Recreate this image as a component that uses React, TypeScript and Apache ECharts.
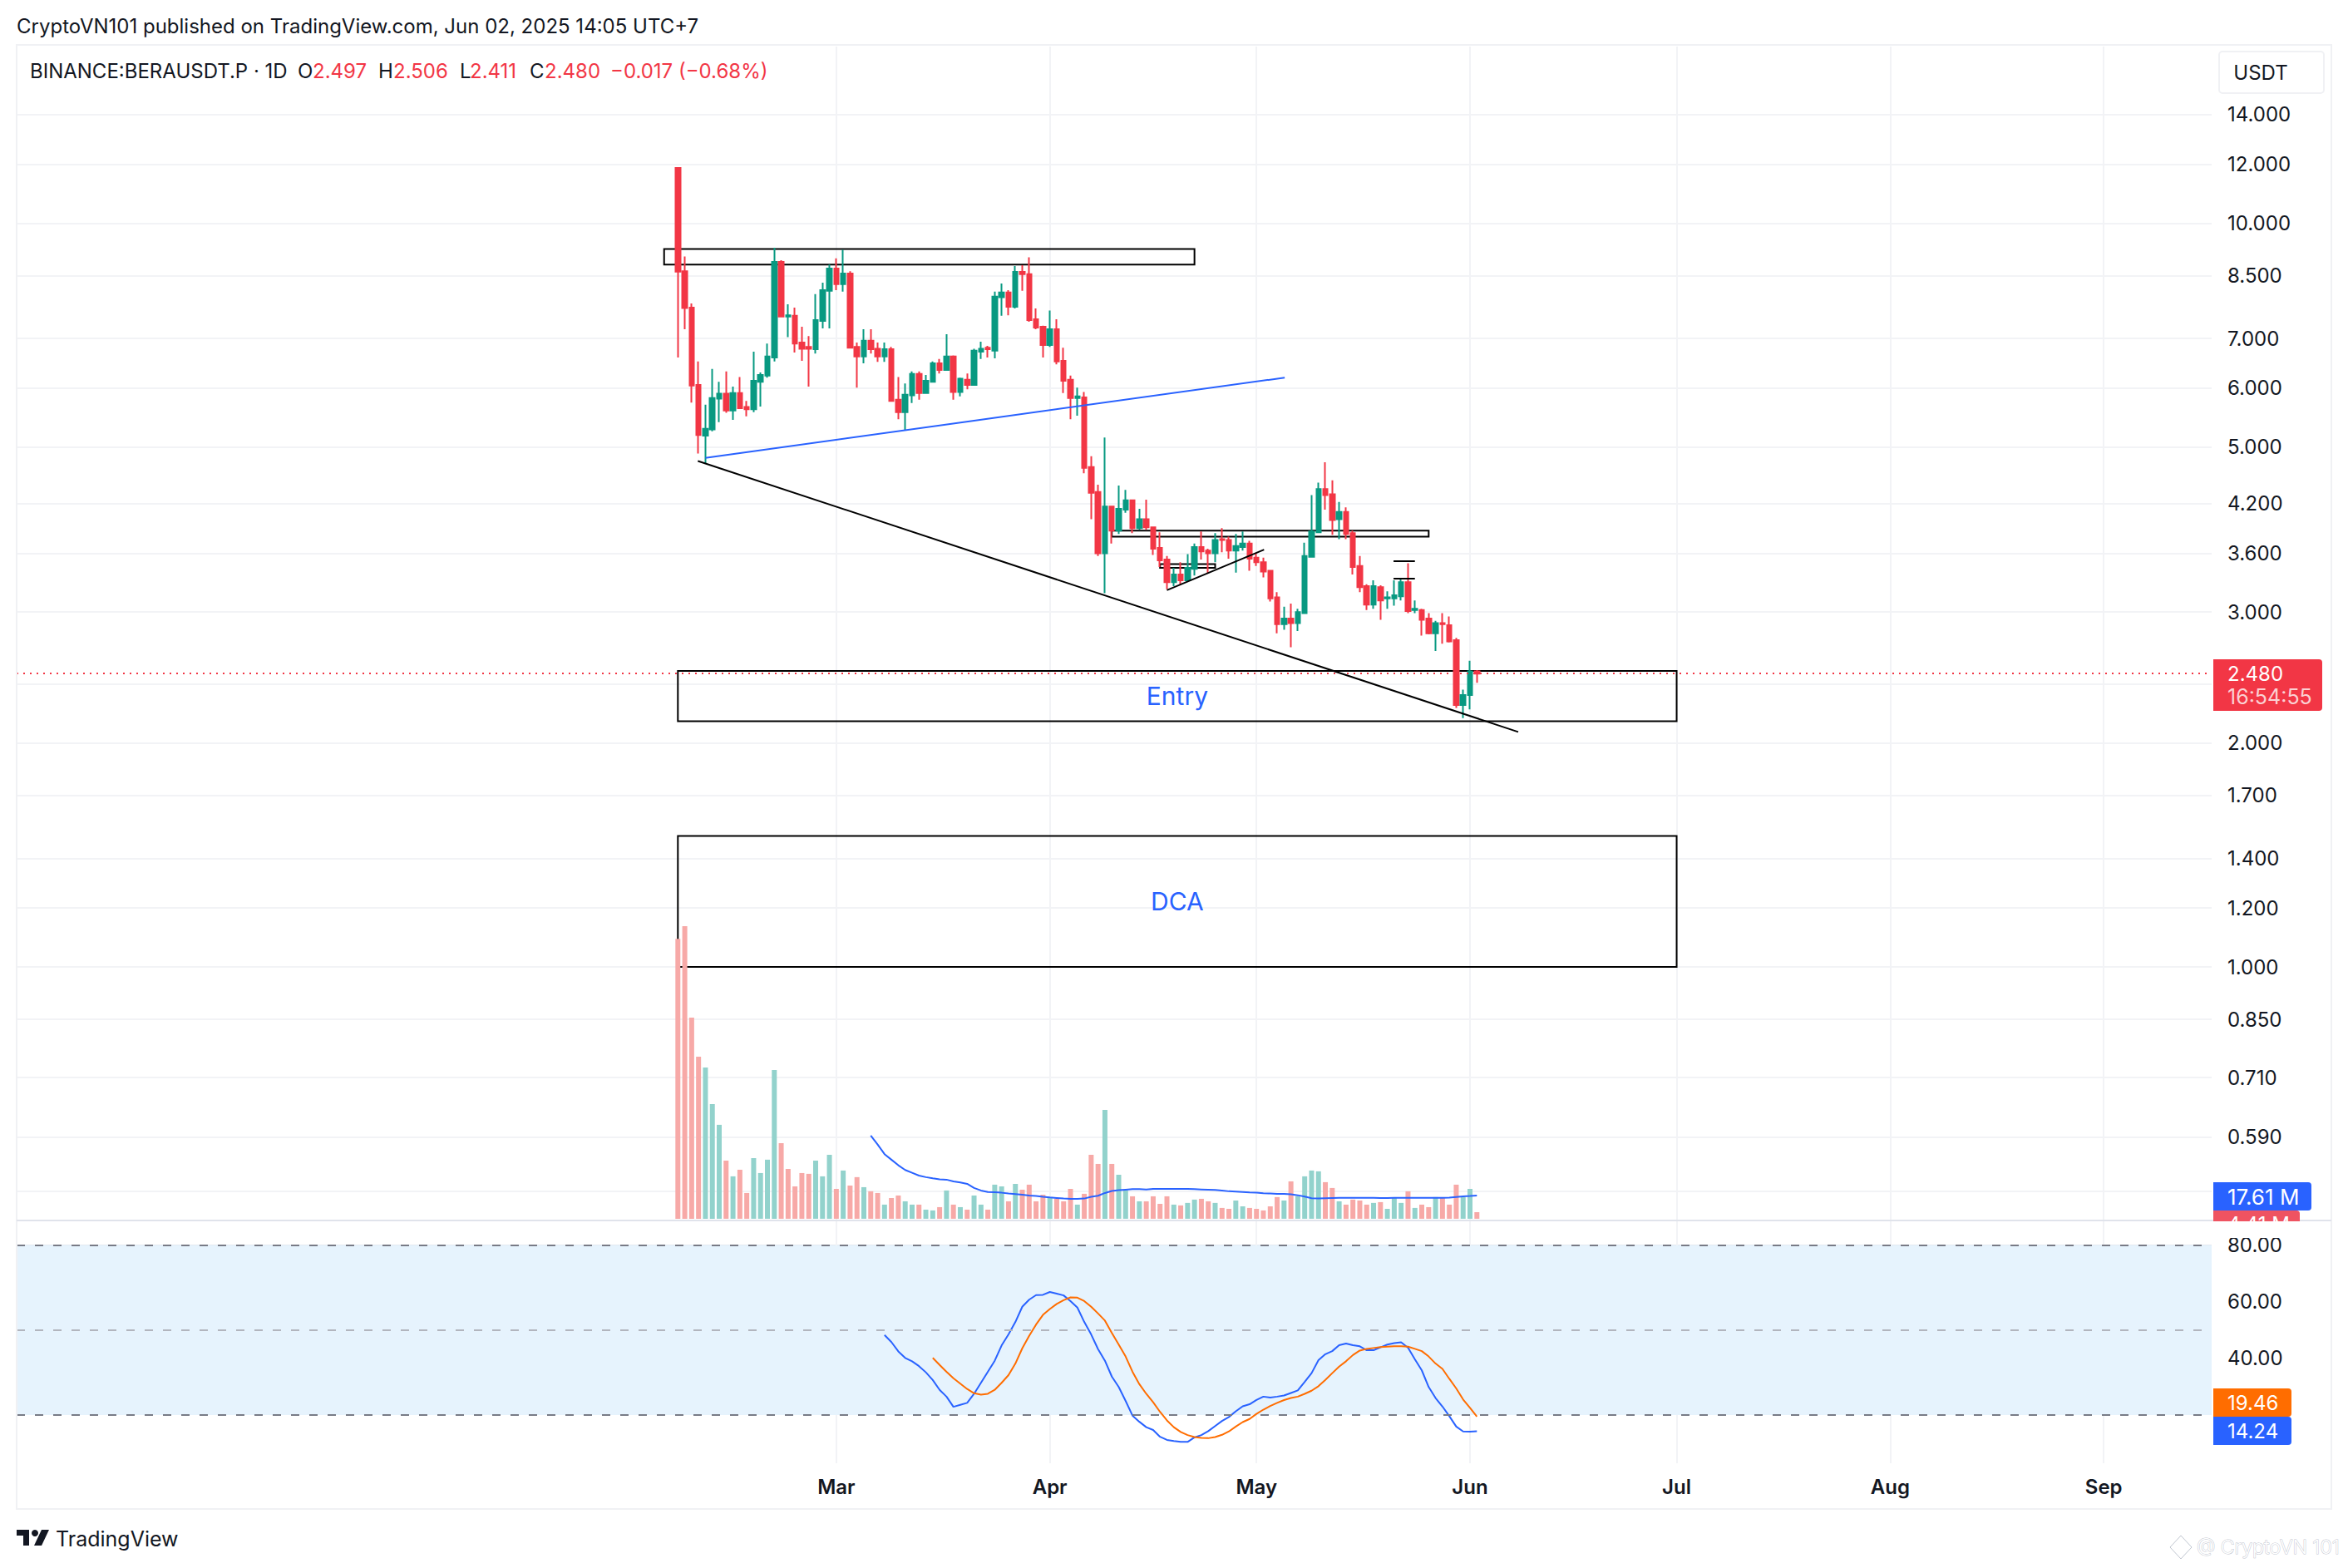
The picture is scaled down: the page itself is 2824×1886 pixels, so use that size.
import React, { useEffect, useRef } from "react";
import * as echarts from "echarts";

const DAY = 86400000;
const firstBar = Date.UTC(2025, 1, 6);

const opens = [11.87,8.62,7.70,6.06,5.18,5.28,5.81,5.90,5.60,5.91,5.66,5.62,6.12,6.24,6.60,8.87,7.49,7.51,6.91,6.82,6.77,7.39,8.11,8.69,8.28,8.56,6.82,6.62,6.95,6.78,6.62,6.77,5.79,5.57,5.87,6.27,5.91,6.12,6.48,6.35,6.62,5.93,6.16,6.06,6.72,6.80,6.74,7.95,8.07,7.72,8.60,8.54,7.43,7.26,6.86,7.20,6.53,6.16,5.82,5.83,4.70,4.35,3.60,4.16,3.86,4.12,4.24,3.89,4.00,3.90,3.66,3.53,3.29,3.37,3.31,3.43,3.67,3.63,3.60,3.76,3.75,3.63,3.67,3.71,3.55,3.50,3.41,3.14,2.89,2.94,2.90,2.99,3.56,3.84,4.39,4.32,4.00,4.09,3.83,3.46,3.25,3.07,3.24,3.13,3.13,3.15,3.29,3.02,3.02,2.94,2.81,2.90,2.88,2.75,2.25,2.32,2.497];
const closes = [8.61,7.69,6.05,5.19,5.29,5.82,5.90,5.60,5.91,5.64,5.62,6.14,6.25,6.62,8.87,7.49,7.52,6.89,6.78,6.78,7.41,8.13,8.69,8.28,8.56,6.80,6.62,6.95,6.77,6.62,6.77,5.77,5.57,5.88,6.27,5.91,6.14,6.48,6.35,6.62,5.93,6.18,6.06,6.74,6.78,6.77,7.97,8.07,7.72,8.60,8.54,7.41,7.24,6.86,7.20,6.52,6.14,5.82,5.85,4.69,4.34,3.60,4.16,3.86,4.13,4.24,3.89,4.00,3.90,3.65,3.52,3.29,3.37,3.31,3.44,3.67,3.62,3.60,3.75,3.75,3.63,3.68,3.71,3.54,3.50,3.40,3.13,2.89,2.94,2.90,3.00,3.57,3.85,4.39,4.31,3.99,4.09,3.82,3.45,3.24,3.07,3.25,3.11,3.14,3.16,3.29,3.01,3.03,2.93,2.81,2.90,2.89,2.74,2.25,2.32,2.497,2.48];
const lows = [6.60,7.20,5.74,4.90,4.76,5.25,5.40,5.56,5.44,5.63,5.50,5.57,5.67,6.20,6.52,7.47,7.03,6.70,6.53,6.03,6.68,7.22,7.22,8.13,8.09,6.80,6.01,6.48,6.68,6.51,6.51,5.77,5.45,5.26,5.73,5.79,5.91,6.12,6.28,6.35,5.79,5.85,5.98,6.05,6.57,6.60,6.58,7.51,7.52,7.68,8.11,7.37,7.20,6.60,6.82,6.46,5.91,5.45,5.51,4.61,4.00,3.57,3.18,3.71,3.82,4.08,3.83,3.87,3.87,3.58,3.45,3.22,3.25,3.27,3.31,3.36,3.53,3.38,3.50,3.61,3.54,3.39,3.63,3.41,3.46,3.34,3.10,2.81,2.84,2.69,2.83,2.99,3.56,3.84,4.12,3.81,3.76,3.76,3.37,3.19,3.02,3.03,2.93,3.03,3.06,3.11,2.99,2.99,2.79,2.80,2.66,2.72,2.73,2.23,2.16,2.22,2.411];
const highs = [11.87,9.02,7.80,6.52,5.70,6.37,6.12,6.32,6.03,6.21,5.77,6.72,6.30,6.89,9.27,8.92,7.78,7.70,7.26,7.05,8.03,8.32,8.80,8.97,9.21,8.62,6.91,7.20,7.20,6.91,6.91,6.82,6.21,6.09,6.32,6.32,6.25,6.52,6.57,7.09,6.64,6.20,6.28,6.78,6.93,6.84,8.09,8.30,8.13,8.76,8.78,9.00,7.68,7.28,7.63,7.43,6.80,6.24,6.01,5.93,4.86,4.45,5.15,4.17,4.44,4.38,4.24,4.13,4.25,3.91,3.84,3.57,3.44,3.50,3.59,3.71,3.85,3.65,3.83,3.89,3.79,3.82,3.85,3.74,3.60,3.55,3.41,3.19,3.05,3.08,3.03,3.72,4.31,4.48,4.77,4.51,4.22,4.15,3.86,3.57,3.27,3.31,3.26,3.20,3.31,3.32,3.49,3.11,3.03,2.99,2.92,2.99,2.96,2.77,2.36,2.58,2.506];
const volumes = [211.8,221.4,152.2,122.7,114.5,86.8,71.1,44.0,32.1,37.1,19.5,45.9,34.6,44.7,112.6,57.2,37.7,24.5,34.6,34.0,44.0,32.1,48.4,22.6,36.5,25.2,31.5,23.9,20.8,19.5,10.7,15.7,17.6,13.2,10.7,10.7,6.9,6.3,8.8,21.4,10.7,8.8,6.9,17.6,10.7,6.9,25.8,24.5,13.2,26.4,22.0,25.8,13.2,18.2,16.4,15.1,13.2,22.6,10.7,18.9,48.4,41.5,82.4,41.5,33.3,21.6,17.0,13.2,13.2,17.0,11.3,17.0,10.7,10.1,12.0,14.5,15.1,13.2,12.0,8.2,7.5,13.8,9.4,8.2,7.5,6.3,9.4,16.4,13.8,28.3,17.0,32.1,36.5,35.9,27.7,23.3,13.2,10.7,14.5,13.8,10.7,12.0,12.6,7.5,15.7,12.0,20.8,8.2,10.7,8.8,16.4,15.7,10.7,25.8,16.4,22.6,5.0];
const pinkDojiBars = [16];
const volumeMaStart = 28;
const volumeMa = [62.9,56.2,48.9,44.7,40.5,36.9,34.8,32.7,31.5,30.6,29.8,29.6,28.3,27.5,26.4,23.3,21.4,20.3,20.1,19.7,19.1,18.7,18.2,17.6,17.2,16.6,16.1,15.7,15.3,15.1,15.1,15.3,16.6,17.4,19.5,21.0,21.6,22.0,22.4,22.4,22.2,22.6,22.6,22.6,22.6,22.6,22.6,22.4,22.2,22.0,21.8,21.4,20.8,20.6,20.3,19.9,19.7,19.3,19.1,18.9,18.9,18.5,17.8,16.8,15.5,15.3,15.5,15.7,15.9,15.9,15.8,15.8,15.8,15.8,15.7,15.7,15.8,15.8,15.8,15.8,15.8,15.8,15.8,15.8,16.0,16.5,17.0,17.3,17.61];
const rsiStart = 30;
const rsiValues = [48.3,45.8,42.5,40.2,39.0,37.3,35.1,32.4,28.9,26.5,22.9,23.6,24.3,27.5,31.4,35.3,39.2,44.6,48.5,52.9,58.3,60.8,62.4,62.5,63.5,62.9,62.3,60.3,58.0,52.9,48.5,43.3,39.2,33.6,29.9,25.0,19.8,17.6,15.7,14.7,12.3,11.2,10.8,10.5,10.5,12.1,12.9,14.3,16.1,17.9,19.3,21.3,23.1,23.8,25.3,26.5,26.2,26.5,26.9,27.8,28.7,31.7,34.8,39.4,41.5,42.6,44.7,45.3,44.7,44.3,42.9,42.9,43.9,44.9,45.4,45.7,43.8,39.7,35.8,29.9,26.0,23.0,19.6,15.9,14.2,14.1,14.24];
const rsiMaStart = 37;
const rsiMa = [40.2,37.7,35.3,33.0,31.1,29.2,27.7,27.2,27.5,28.9,31.4,34.1,38.2,43.6,48.0,52.0,55.4,57.5,59.3,60.6,61.6,61.5,60.3,58.3,55.9,53.4,49.0,44.9,40.7,35.3,30.9,27.5,24.5,21.1,18.1,15.7,14.0,12.9,12.2,11.9,11.8,12.2,13.0,14.2,15.9,17.5,18.6,20.4,21.9,23.2,24.3,25.3,26.0,26.5,27.5,28.6,30.2,32.4,34.8,37.1,39.0,41.2,42.8,43.4,43.7,44.0,44.2,44.3,44.3,44.2,43.4,42.6,40.7,38.2,36.3,32.8,29.4,25.5,22.5,19.46];

const priceGridValues = [14,12,10,8.5,7,6,5,4.2,3.6,3,2.4,2,1.7,1.4,1.2,1,0.85,0.71,0.59,0.5];
const priceLabelValues = [14,12,10,8.5,7,6,5,4.2,3.6,3,2,1.7,1.4,1.2,1,0.85,0.71,0.59];
const rsiLabelValues = [40,60,80];
const monthNames = ["Mar","Apr","May","Jun","Jul","Aug","Sep"];
const monthTicks = [2,3,4,5,6,7,8].map((m) => Date.UTC(2025, m, 1));

// annotations: [day offset from first bar, price]
const boxes: [number, number, number, number, string?][] = [
  [-2, 9.23, 75, 8.80],
  [63, 3.86, 109, 3.79],
  [70, 3.48, 78, 3.44],
  [0, 2.50, 145, 2.14, "Entry"],
  [0, 1.5, 145, 1.0, "DCA"],
];
const blackLines: [number, number, number, number][] = [
  [2.9, 4.79, 122, 2.07],
  [71, 3.21, 85.1, 3.64],
  [103.9, 3.51, 107, 3.51],
  [103.9, 3.33, 107, 3.33],
];
const blueLine: [number, number, number, number] = [4, 4.835, 88.1, 6.2];
const lastPrice = 2.48;

const RED = "#f23645";
const GREEN = "#089981";
const BLUE = "#2962ff";
const ORANGE = "#ff6d00";
const DARK = "#131722";
const FONT = "Inter";
const GRIDLINE = "#f2f3f6";

const dayTime = (d: number) => firstBar + d * DAY;

function txt(text: string, x: number, y: number, fill: string, size = 24, extra: any = {}) {
  return {
    type: "text", x, y, z: 50, silent: true,
    style: { text, fill, font: `${extra.weight || 400} ${size}px ${FONT}`, textVerticalAlign: "middle", textAlign: extra.align || "left", ...extra.style },
  };
}
function box(x: number, y: number, w: number, h: number, fill: string, z = 40, r: any = [0, 4, 4, 0]) {
  return { type: "rect", z, silent: true, shape: { x, y, width: w, height: h, r }, style: { fill } };
}

export default function App() {
  const ref = useRef<HTMLDivElement>(null);
  useEffect(() => {
    const chart = echarts.init(ref.current!, null, { renderer: "svg", width: 2824, height: 1886 });
    const tMin = dayTime(-96);
    const tMax = dayTime(222.67);
    const candleData = opens.map((o, i) => [dayTime(i), o, closes[i], lows[i], highs[i]]);
    const volumeData = volumes.map((v, i) => {
      const down = closes[i] < opens[i] || pinkDojiBars.includes(i);
      return { value: [dayTime(i), v], itemStyle: { color: down ? "#f7a9a7" : "#92d2cc" } };
    });
    const lineOf = (l: number[], color: string) => [
      { coord: [dayTime(l[0]), l[1]], lineStyle: { color, width: 2, type: "solid" } },
      { coord: [dayTime(l[2]), l[3]] },
    ];
    const xBase = (gridIndex: number, labels: boolean) => ({
      type: "value", gridIndex, min: tMin, max: tMax, scale: true,
      axisLine: { show: false },
      axisTick: { show: false, customValues: monthTicks },
      splitLine: { show: true, lineStyle: { color: GRIDLINE, width: 2 } },
      axisLabel: labels
        ? { show: true, customValues: monthTicks, margin: 16, fontFamily: FONT, fontSize: 24, fontWeight: 600, color: DARK, hideOverlap: false,
            formatter: (v: number) => monthNames[new Date(v).getUTCMonth() - 2] }
        : { show: false },
    });
    const option: any = {
      animation: false,
      backgroundColor: "#ffffff",
      tooltip: { show: false },
      grid: [
        { left: 20, top: 56, width: 2640, height: 1412 },
        { left: 20, top: 1468, width: 2640, height: 292 },
      ],
      xAxis: [xBase(0, false), xBase(1, true)],
      yAxis: [
        {
          type: "log", logBase: 10, gridIndex: 0, position: "right", min: 0.4561, max: 17.28,
          axisLine: { show: false },
          axisTick: { show: false, customValues: priceGridValues },
          axisLabel: { customValues: priceLabelValues, margin: 19, fontFamily: FONT, fontSize: 24, color: DARK, formatter: (v: number) => v.toFixed(3) },
          splitLine: { show: true, lineStyle: { color: GRIDLINE, width: 2 } },
          minorTick: { show: false }, minorSplitLine: { show: false },
        },
        { type: "value", gridIndex: 0, min: -1.3, max: 887, show: false, splitLine: { show: false } },
        {
          type: "value", gridIndex: 1, position: "right", min: 2.94, max: 88.8,
          axisLine: { show: false },
          axisTick: { show: false, customValues: rsiLabelValues },
          axisLabel: { customValues: rsiLabelValues, margin: 19, fontFamily: FONT, fontSize: 24, color: DARK, formatter: (v: number) => v.toFixed(2) },
          splitLine: { show: true, lineStyle: { color: "#e2e8f0", width: 2 } },
        },
      ],
      series: [
        {
          type: "bar", name: "Volume", xAxisIndex: 0, yAxisIndex: 1, data: volumeData, barWidth: 6, z: 1, silent: true,
        },
        {
          type: "line", name: "Volume MA", xAxisIndex: 0, yAxisIndex: 1, z: 2, silent: true, symbol: "none",
          lineStyle: { color: BLUE, width: 2 },
          data: volumeMa.map((v, i) => [dayTime(i + volumeMaStart), v]),
        },
        {
          type: "candlestick", name: "BERAUSDT.P", xAxisIndex: 0, yAxisIndex: 0, z: 3, silent: true,
          barWidth: 6,
          itemStyle: { color: GREEN, color0: RED, borderColor: GREEN, borderColor0: RED, borderWidth: 2 },
          data: candleData,
          markLine: {
            silent: true, symbol: ["none", "none"], label: { show: false }, animation: false,
            data: [
              { yAxis: lastPrice, lineStyle: { color: RED, width: 2, type: [2, 6] } },
              ...blackLines.map((l) => lineOf(l, "#000000")),
              lineOf(blueLine, BLUE),
            ],
          },
          markArea: {
            silent: true, animation: false,
            itemStyle: { color: "rgba(0,0,0,0)", borderColor: "#000000", borderWidth: 2 },
            label: { show: true, position: "inside", color: BLUE, fontFamily: FONT, fontSize: 30 },
            data: boxes.map((b) => [
              { name: b[4] || "", coord: [dayTime(b[0]), b[1]] },
              { coord: [dayTime(b[2]), b[3]] },
            ]),
          },
        },
        {
          type: "line", name: "RSI", xAxisIndex: 1, yAxisIndex: 2, z: 3, silent: true, symbol: "none",
          lineStyle: { color: BLUE, width: 2 },
          data: rsiValues.map((v, i) => [dayTime(i + rsiStart), v]),
          markArea: {
            silent: true, animation: false,
            itemStyle: { color: "#e6f3fd" },
            data: [[{ yAxis: 80 }, { yAxis: 20 }]],
          },
          markLine: {
            silent: true, animation: false, symbol: ["none", "none"], label: { show: false },
            data: [
              { yAxis: 80, lineStyle: { color: "#787b86", width: 2, type: [10, 12] } },
              { yAxis: 50, lineStyle: { color: "#b2b5be", width: 2, type: [10, 12] } },
              { yAxis: 20, lineStyle: { color: "#787b86", width: 2, type: [10, 12] } },
            ],
          },
        },
        {
          type: "line", name: "RSI MA", xAxisIndex: 1, yAxisIndex: 2, z: 4, silent: true, symbol: "none",
          lineStyle: { color: ORANGE, width: 2 },
          data: rsiMa.map((v, i) => [dayTime(i + rsiMaStart), v]),
        },
      ],
      graphic: { elements: [
        { type: "rect", z: 30, silent: true, shape: { x: 20, y: 54, width: 2784, height: 1761 }, style: { fill: "none", stroke: "#f0f1f4", lineWidth: 2 } },
        { type: "line", z: 30, silent: true, shape: { x1: 20, y1: 1468, x2: 2804, y2: 1468 }, style: { stroke: "#e0e3eb", lineWidth: 2 } },
        { type: "rect", z: 30, silent: true, shape: { x: 2669, y: 62, width: 126, height: 50, r: 4 }, style: { fill: "#fff", stroke: "#f0f1f4", lineWidth: 2 } },
        txt("USDT", 2719, 87, DARK, 24, { align: "center" }),
        txt("CryptoVN101 published on TradingView.com, Jun 02, 2025 14:05 UTC+7", 20, 31, DARK, 24),
        txt("BINANCE:BERAUSDT.P · 1D", 36, 85, DARK, 24),
        txt("O", 358, 85, DARK), txt("2.497", 376, 85, RED),
        txt("H", 455, 85, DARK), txt("2.506", 473, 85, RED),
        txt("L", 553, 85, DARK), txt("2.411", 565, 85, RED),
        txt("C", 637, 85, DARK), txt("2.480", 655, 85, RED),
        txt("−0.017 (−0.68%)", 734, 85, RED),
        box(2662, 793, 131, 62, RED),
        txt("2.480", 2679, 810, "#ffffff"),
        txt("16:54:55", 2679, 838, "#fbd0d3", 25),
        box(2662, 1456, 104, 30, "#ef5361", 38),
        txt("4.41 M", 2679, 1472, "#ffffff"),
        { type: "rect", z: 60, silent: true, shape: { x: 2662, y: 1469, width: 110, height: 20 }, style: { fill: "#ffffff" } },
        box(2662, 1422, 118, 34, BLUE),
        txt("17.61 M", 2679, 1439, "#ffffff", 26),
        box(2662, 1670, 94, 34, ORANGE),
        txt("19.46", 2679, 1687, "#ffffff"),
        box(2662, 1704, 94, 34, BLUE),
        txt("14.24", 2679, 1721, "#ffffff"),
        { type: "rect", z: 50, silent: true, shape: { x: 20, y: 1840, width: 15, height: 7 }, style: { fill: DARK } },
        { type: "rect", z: 50, silent: true, shape: { x: 28, y: 1847, width: 7, height: 12 }, style: { fill: DARK } },
        { type: "circle", z: 50, silent: true, shape: { cx: 42, cy: 1844, r: 4 }, style: { fill: DARK } },
        { type: "polygon", z: 50, silent: true, shape: { points: [[50, 1840], [59, 1840], [50, 1859], [41, 1859]] }, style: { fill: DARK } },
        txt("TradingView", 67, 1851, DARK, 25),
        { type: "polygon", z: 50, silent: true, shape: { points: [[2623, 1847], [2636, 1861], [2623, 1875], [2610, 1861]] }, style: { fill: "#fff", stroke: "#c0c6d0", lineWidth: 1 } },
        txt("@ CryptoVN 101", 2642, 1861, "#ffffff", 23, { weight: 300, style: { stroke: "#bfc5cf", lineWidth: 1 } }),
      ] },
    };
    chart.setOption(option);
    return () => chart.dispose();
  }, []);
  return <div ref={ref} style={{ position: "absolute", left: 0, top: 0, width: 2824, height: 1886 }} />;
}
